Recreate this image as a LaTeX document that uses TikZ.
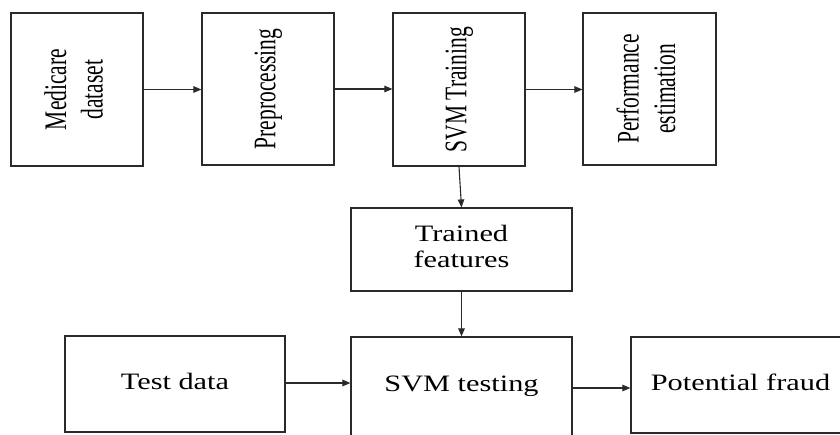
\documentclass[tikz,border=0pt]{standalone}
\usepackage{fontspec}
\setmainfont{Liberation Serif}
\usetikzlibrary{arrows.meta}
\newcommand{\htxt}[1]{\scalebox{1.29}[1]{\fontsize{23.5}{25.7}\selectfont\begin{tabular}{@{}c@{}}#1\end{tabular}}}
\newcommand{\vtxt}[1]{\scalebox{1.46}[1]{\rotatebox{90}{\fontsize{21.5}{25}\selectfont\begin{tabular}{@{}c@{}}#1\end{tabular}}}}
\definecolor{ln}{HTML}{2A2A2A}
\tikzset{
  box/.style={draw=ln, line width=1.2pt, rectangle, inner sep=0pt, text=black},
  arr/.style={draw=ln, line width=1.1pt, -{Triangle[length=8pt,width=6.5pt]}}
}
\begin{document}
\begin{tikzpicture}[x=1pt,y=-1pt]
\useasboundingbox (0,0) rectangle (840,434);
\fill[white] (0,0) rectangle (840,434);
\clip (0,0) rectangle (840,434);
\node[box, minimum width=132pt, minimum height=153pt] (med) at (77,89.5) {\vtxt{Medicare\\dataset}};
\node[box, minimum width=132pt, minimum height=152pt] (pre) at (268,89) {\vtxt{Preprocessing}};
\node[box, minimum width=132pt, minimum height=153pt] (svmtr) at (459,89.5) {\vtxt{SVM Training}};
\node[box, minimum width=133pt, minimum height=152pt] (perf) at (649.5,89) {\vtxt{Performance\\estimation}};
\node[box, minimum width=221pt, minimum height=83pt] (trained) at (461.5,249.5) {\htxt{Trained\\features}};
\node[box, minimum width=220pt, minimum height=96pt] (test) at (175,384) {\htxt{Test data}};
\node[box, minimum width=221pt, minimum height=100pt] (svmtest) at (461.5,387) {};
\node (svmtesttxt) at (461.5,386) {\htxt{SVM testing}};
\node[box, minimum width=219pt, minimum height=96pt] (fraud) at (740.5,385) {\htxt{Potential fraud}};
\coordinate (te) at ([yshift=1pt]test.east);
\coordinate (se) at ([yshift=-1pt]svmtest.east);
\draw[arr] (med.east) -- (pre.west |- med.east);
\draw[arr] (pre.east) -- (svmtr.west |- pre.east);
\draw[arr] (svmtr.east) -- (perf.west |- svmtr.east);
\draw[arr] (svmtr.south) -- (trained.north);
\draw[arr] (trained.south) -- (svmtest.north);
\draw[arr] (te) -- (svmtest.west |- te);
\draw[arr] (se) -- (fraud.west |- se);
\end{tikzpicture}
\end{document}
